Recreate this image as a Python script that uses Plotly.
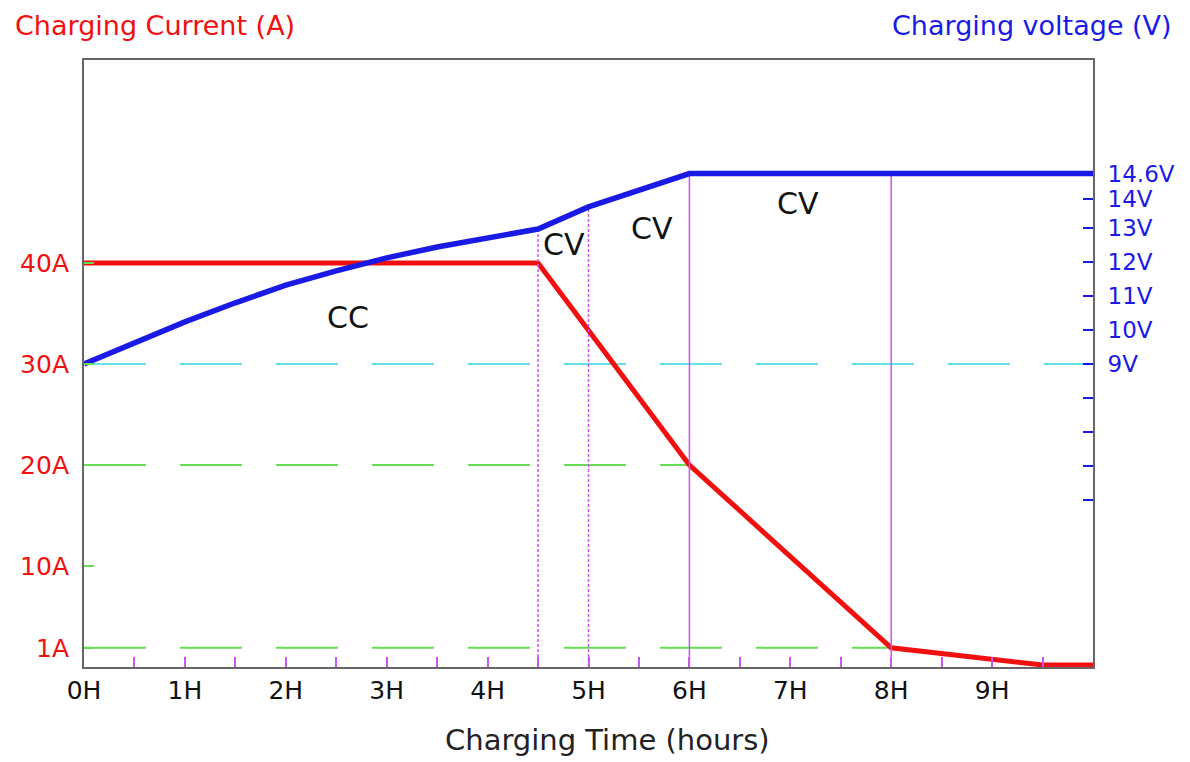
import plotly.graph_objects as go

# ---- data ----
hour_ticks = [0, 1, 2, 3, 4, 5, 6, 7, 8, 9]
hour_labels = ["0H", "1H", "2H", "3H", "4H", "5H", "6H", "7H", "8H", "9H"]

current_time = [0, 4.5, 6, 8, 9.5, 10]
current_vals = [40, 40, 20, 1.9, 0.2, 0.2]

voltage_time = [0, 0.5, 1, 1.5, 2, 2.5, 3, 3.5, 4, 4.5, 5, 5.5, 6, 10]
voltage_vals = [9, 9.62, 10.24, 10.8, 11.32, 11.74, 12.12, 12.44, 12.7, 12.97, 13.62, 14.12, 14.6, 14.6]

current_tickvals = [1.9, 10, 20, 30, 40]
current_ticktext = ["1A", "10A", "20A", "30A", "40A"]

voltage_tickvals = [5, 6, 7, 8, 9, 10, 11, 12, 13, 13.85, 14.6]
voltage_ticktext = ["", "", "", "", "9V", "10V", "11V", "12V", "13V", "14V", "14.6V"]

# stage boundaries (time, voltage reached)
dotted_marks_t = [4.5, 5]
dotted_marks_v = [12.97, 13.62]
solid_marks_t = [6, 8]
solid_marks_v = [14.6, 14.6]

# guide levels (level, end time)
guide_cyan = (30, 10)
guide_green = [(20, 6), (1.9, 8)]

stage_labels = ["CC", "CV", "CV", "CV"]
stage_x = [2.62, 4.76, 5.63, 7.08]
stage_y = [34.6, 41.8, 43.4, 45.9]

FONT = "DejaVu Sans"
RED = "#f01010"
BLUE = "#1a1ae6"
MAGENTA = "#cc55ee"
GREEN = "#66dd55"
CYAN = "#66e0e8"
Y2MIN, Y2MAX = 0.09, 17.94

fig = go.Figure()

# guide dashed lines
fig.add_trace(go.Scatter(x=[0, guide_cyan[1]], y=[guide_cyan[0]] * 2, mode="lines",
                         line=dict(color=CYAN, width=2, dash="62px,34px"), showlegend=False, hoverinfo="skip"))
for lvl, tend in guide_green:
    fig.add_trace(go.Scatter(x=[0, tend], y=[lvl, lvl], mode="lines",
                             line=dict(color=GREEN, width=2, dash="62px,34px"), showlegend=False, hoverinfo="skip"))

# vertical stage lines
for t, v in zip(dotted_marks_t, dotted_marks_v):
    fig.add_trace(go.Scatter(x=[t, t], y=[Y2MIN, v], yaxis="y2", mode="lines",
                             line=dict(color=MAGENTA, width=1.5, dash="3px,2px"), showlegend=False, hoverinfo="skip"))
for t, v in zip(solid_marks_t, solid_marks_v):
    fig.add_trace(go.Scatter(x=[t, t], y=[Y2MIN, v], yaxis="y2", mode="lines",
                             line=dict(color=MAGENTA, width=1.5), showlegend=False, hoverinfo="skip"))

# current
fig.add_trace(go.Scatter(x=current_time, y=current_vals, mode="lines",
                         line=dict(color=RED, width=5), showlegend=False))
# voltage
fig.add_trace(go.Scatter(x=voltage_time, y=voltage_vals, yaxis="y2", mode="lines",
                         line=dict(color=BLUE, width=5.5), showlegend=False))

annotations = []
for txt, x, y in zip(stage_labels, stage_x, stage_y):
    annotations.append(dict(x=x, y=y, xref="x", yref="y", text=txt, showarrow=False,
                            font=dict(family=FONT, size=30, color="#111")))
annotations.append(dict(x=-0.069, y=1.084, xref="paper", yref="paper", xanchor="left", yanchor="top",
                        borderpad=0, text="Charging Current (A)", showarrow=False,
                        font=dict(family=FONT, size=27, color=RED)))
annotations.append(dict(x=1.079, y=1.084, xref="paper", yref="paper", xanchor="right", yanchor="top",
                        borderpad=0, text="Charging voltage (V)", showarrow=False,
                        font=dict(family=FONT, size=27, color=BLUE)))
annotations.append(dict(x=0.519, y=-0.12, xref="paper", yref="paper", xanchor="center", yanchor="middle",
                        text="Charging Time (hours)", showarrow=False, font=dict(family=FONT, size=29, color="#222")))

fig.update_layout(
    width=1190, height=762,
    margin=dict(l=72, r=105, t=52, b=103),
    paper_bgcolor="white", plot_bgcolor="white",
    font=dict(family=FONT),
    annotations=annotations,
    xaxis=dict(range=[0, 10], tickvals=hour_ticks, ticktext=hour_labels,
               ticks="inside", ticklen=10, tickwidth=1.5, tickcolor=MAGENTA,
               minor=dict(tickvals=[h + 0.5 for h in hour_ticks], ticks="inside", ticklen=10,
                          tickwidth=1.5, tickcolor=MAGENTA),
               tickfont=dict(family=FONT, size=25, color="#111"),
               showline=True, linecolor="#666", linewidth=2, mirror=True,
               showgrid=False, zeroline=False),
    yaxis=dict(range=[0, 60.1], tickvals=current_tickvals, ticktext=current_ticktext,
               ticks="inside", ticklen=10, tickwidth=1.5, tickcolor=GREEN,
               tickfont=dict(family=FONT, size=25, color=RED), ticklabelstandoff=8,
               showline=True, linecolor="#666", linewidth=2,
               showgrid=False, zeroline=False),
    yaxis2=dict(range=[Y2MIN, Y2MAX], overlaying="y", side="right",
                tickvals=voltage_tickvals, ticktext=voltage_ticktext,
                ticks="inside", ticklen=10, tickwidth=1.5, tickcolor=BLUE,
                tickfont=dict(family=FONT, size=23, color=BLUE), ticklabelstandoff=8,
                showline=True, linecolor="#666", linewidth=2,
                showgrid=False, zeroline=False),
)

fig.write_html("out.html")
